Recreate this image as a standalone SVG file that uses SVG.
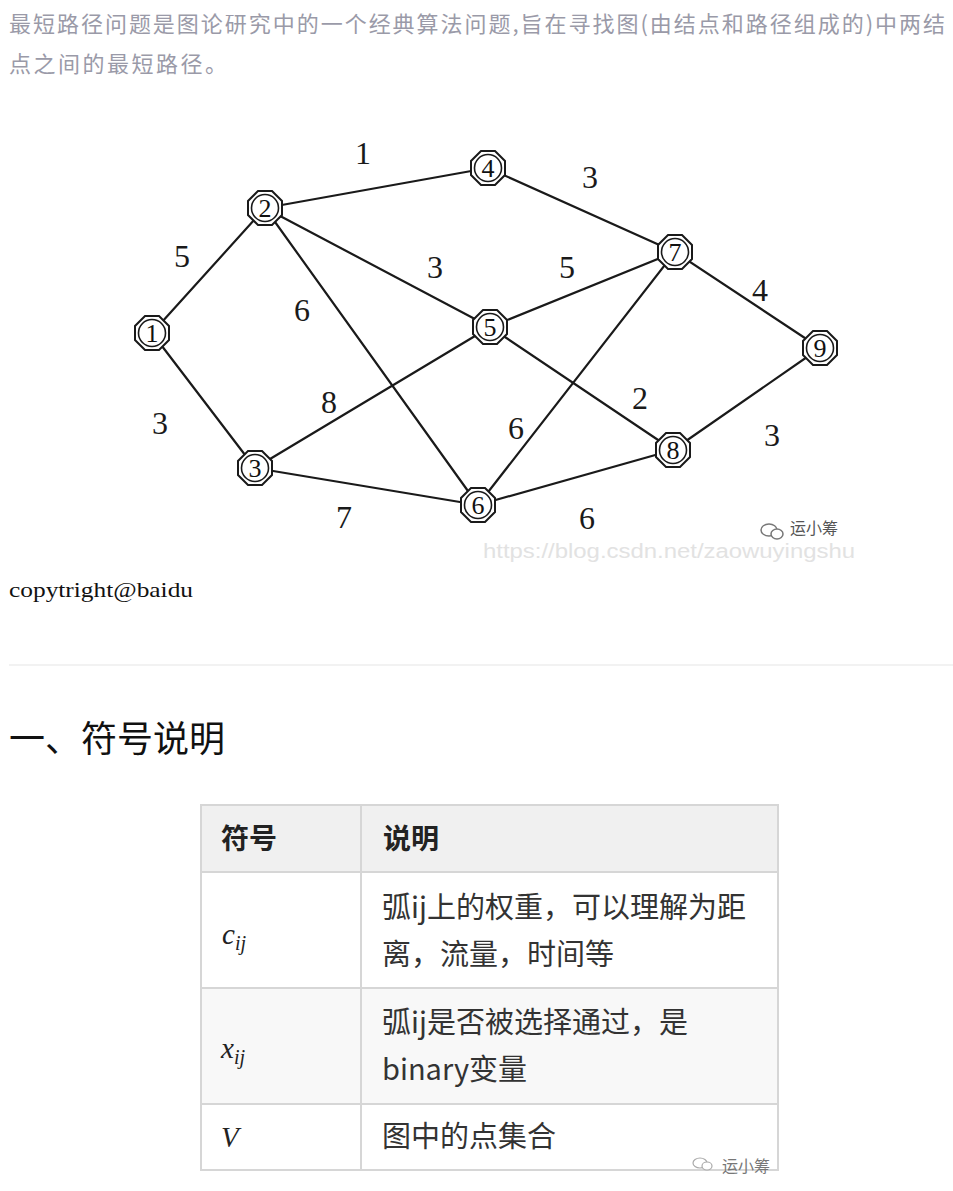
<svg xmlns="http://www.w3.org/2000/svg" width="953" height="1191" viewBox="0 0 953 1191">
<style>
.intro{font-family:"Noto Sans CJK SC","Liberation Sans",sans-serif;font-size:22px;fill:#9a9aa8}
.edge{stroke:#1a1a1a;stroke-width:2.2;fill:none;stroke-linecap:round}
.oct{fill:#fff;stroke:#1a1a1a;stroke-width:2}
.inner{fill:none;stroke:#1a1a1a;stroke-width:1.6}
.nlab{font-family:"Liberation Serif",serif;font-size:26px;fill:#111;text-anchor:middle}
.elab{font-family:"Liberation Serif",serif;font-size:32px;fill:#1a1a1a;text-anchor:middle}
.cell{font-family:"Noto Sans CJK SC","Liberation Serif",serif;font-size:29px;fill:#333}
.head{font-family:"Noto Sans CJK SC","Liberation Serif",serif;font-size:28px;font-weight:bold;fill:#222}
.math{font-family:"Liberation Serif",serif;font-style:italic;fill:#222}
.grid{stroke:#d6d6d6;stroke-width:2;fill:none}
</style>
<defs>
<g id="nodeShape">
<polygon class="oct" points="7,-17 17,-7 17,7 7,17 -7,17 -17,7 -17,-7 -7,-17"/>
<circle class="inner" r="13.5"/>
</g>
</defs>
<rect width="953" height="1191" fill="#fff"/>
<text class="intro" x="9" y="32" textLength="936" lengthAdjust="spacing">最短路径问题是图论研究中的一个经典算法问题,旨在寻找图(由结点和路径组成的)中两结</text>
<text class="intro" x="9" y="72" textLength="218" lengthAdjust="spacing">点之间的最短路径。</text>

<g id="connectors">
<line class="edge" x1="152" y1="333" x2="265" y2="208"/>
<line class="edge" x1="152" y1="333" x2="255" y2="468"/>
<line class="edge" x1="265" y1="208" x2="488" y2="168"/>
<line class="edge" x1="265" y1="208" x2="490" y2="327"/>
<line class="edge" x1="265" y1="208" x2="478" y2="505"/>
<line class="edge" x1="255" y1="468" x2="490" y2="327"/>
<line class="edge" x1="255" y1="468" x2="478" y2="505"/>
<line class="edge" x1="488" y1="168" x2="675" y2="252"/>
<line class="edge" x1="490" y1="327" x2="675" y2="252"/>
<line class="edge" x1="490" y1="327" x2="673" y2="450"/>
<line class="edge" x1="478" y1="505" x2="675" y2="252"/>
<line class="edge" x1="478" y1="505" x2="673" y2="450"/>
<line class="edge" x1="675" y1="252" x2="820" y2="348"/>
<line class="edge" x1="673" y1="450" x2="820" y2="348"/>
<text class="elab" x="363" y="164">1</text>
<text class="elab" x="590" y="188">3</text>
<text class="elab" x="182" y="267">5</text>
<text class="elab" x="302" y="321">6</text>
<text class="elab" x="435" y="278">3</text>
<text class="elab" x="567" y="278">5</text>
<text class="elab" x="760" y="301">4</text>
<text class="elab" x="160" y="434">3</text>
<text class="elab" x="329" y="413">8</text>
<text class="elab" x="344" y="528">7</text>
<text class="elab" x="516" y="439">6</text>
<text class="elab" x="640" y="409">2</text>
<text class="elab" x="772" y="446">3</text>
<text class="elab" x="587" y="529">6</text>
</g>

<g id="n1" transform="translate(152,333)"><use href="#nodeShape"/><text class="nlab" y="9">1</text></g>
<g id="n2" transform="translate(265,208)"><use href="#nodeShape"/><text class="nlab" y="9">2</text></g>
<g id="n3" transform="translate(255,468)"><use href="#nodeShape"/><text class="nlab" y="9">3</text></g>
<g id="n4" transform="translate(488,168)"><use href="#nodeShape"/><text class="nlab" y="9">4</text></g>
<g id="n5" transform="translate(490,327)"><use href="#nodeShape"/><text class="nlab" y="9">5</text></g>
<g id="n6" transform="translate(478,505)"><use href="#nodeShape"/><text class="nlab" y="9">6</text></g>
<g id="n7" transform="translate(675,252)"><use href="#nodeShape"/><text class="nlab" y="9">7</text></g>
<g id="n8" transform="translate(673,450)"><use href="#nodeShape"/><text class="nlab" y="9">8</text></g>
<g id="n9" transform="translate(820,348)"><use href="#nodeShape"/><text class="nlab" y="9">9</text></g>

<g id="watermark1">
<text x="483" y="558" font-family="Liberation Sans, sans-serif" font-size="20" fill="#e2e2e2" textLength="372" lengthAdjust="spacingAndGlyphs">https://blog.csdn.net/zaowuyingshu</text>
<ellipse cx="769" cy="530" rx="8" ry="6" fill="none" stroke="#777" stroke-width="1.5"/>
<ellipse cx="777" cy="534" rx="6" ry="5" fill="#fff" stroke="#777" stroke-width="1.5"/>
<text x="790" y="534" font-family="Noto Sans CJK SC, sans-serif" font-size="16" fill="#555">运小筹</text>
</g>

<text x="9" y="597" font-family="Liberation Serif, serif" font-size="21" fill="#111" textLength="184" lengthAdjust="spacingAndGlyphs">copytright@baidu</text>
<line x1="9" y1="665" x2="953" y2="665" stroke="#eeeeee" stroke-width="1.5"/>
<text x="9" y="752" font-family="Noto Sans CJK SC, sans-serif" font-size="36" fill="#111">一、符号说明</text>

<g id="table">
<rect x="201" y="805" width="577" height="67" fill="#f0f0f0"/>
<rect x="201" y="988" width="577" height="116" fill="#f8f8f8"/>
<rect class="grid" x="201" y="805" width="577" height="365"/>
<line class="grid" x1="361" y1="805" x2="361" y2="1170"/>
<line class="grid" x1="201" y1="872" x2="778" y2="872"/>
<line class="grid" x1="201" y1="988" x2="778" y2="988"/>
<line class="grid" x1="201" y1="1104" x2="778" y2="1104"/>
<text class="head" x="221" y="849">符号</text>
<text class="head" x="383" y="849">说明</text>
<text class="math" x="222" y="944" font-size="29">c<tspan font-size="20" dy="6">ij</tspan></text>
<text class="cell" x="382" y="918">弧ij上的权重，可以理解为距</text>
<text class="cell" x="382" y="965">离，流量，时间等</text>
<text class="math" x="221" y="1058" font-size="29">x<tspan font-size="20" dy="6">ij</tspan></text>
<text class="cell" x="382" y="1033">弧ij是否被选择通过，是</text>
<text class="cell" x="382" y="1080">binary变量</text>
<text class="math" x="221" y="1147" font-size="29">V</text>
<text class="cell" x="382" y="1147">图中的点集合</text>
</g>
<g id="watermark2">
<ellipse cx="700" cy="1163" rx="7" ry="5" fill="none" stroke="#aaa" stroke-width="1.2"/>
<ellipse cx="707" cy="1166" rx="5" ry="4" fill="#fff" stroke="#aaa" stroke-width="1.2"/>
<text x="722" y="1172" font-family="Noto Sans CJK SC, sans-serif" font-size="16" fill="#777">运小筹</text>
</g>
</svg>
